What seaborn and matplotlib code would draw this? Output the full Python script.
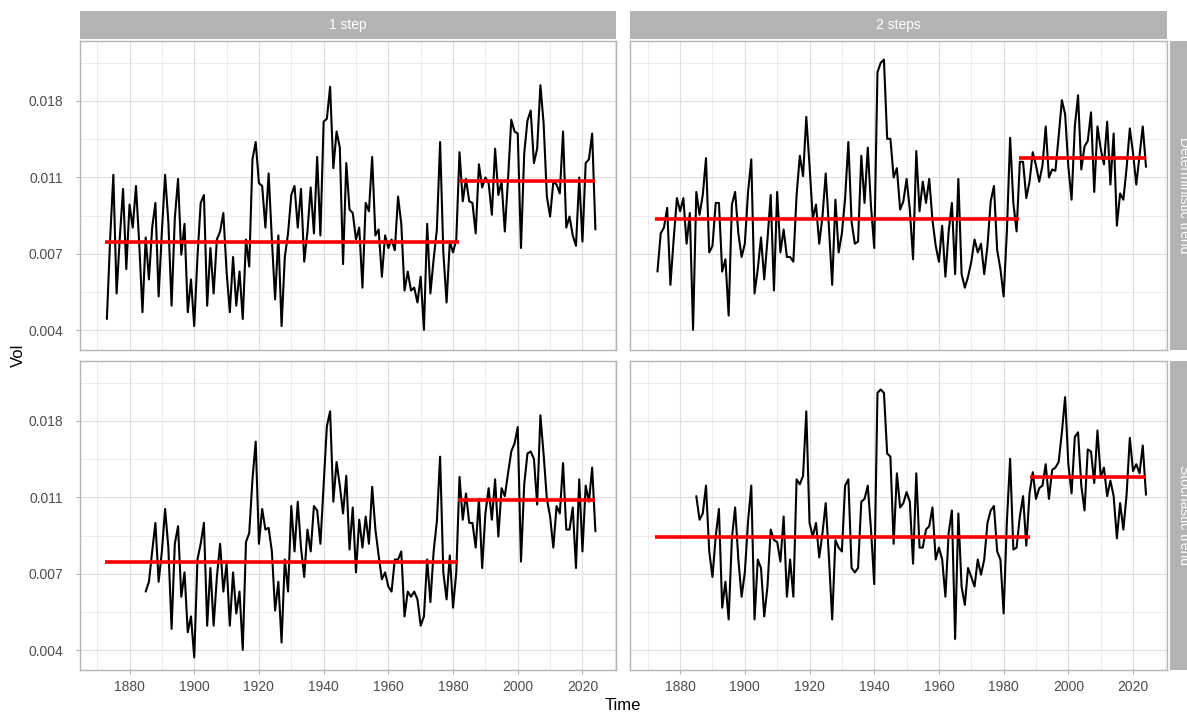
import numpy as np
import pandas as pd
import seaborn as sns
import matplotlib
matplotlib.use("Agg")
import matplotlib.pyplot as plt
from matplotlib.patches import Rectangle
from matplotlib.ticker import FixedLocator, NullFormatter


# ---------------- data ----------------
years_top = np.arange(1873, 2025)
years_bottom = np.arange(1885, 2025)

vol_1step_det = [
    0.0044, 0.0074, 0.0113, 0.0052, 0.0075, 0.0103, 0.0061, 0.0093,
    0.0080, 0.0105, 0.0072, 0.0046, 0.0075, 0.0057, 0.0080, 0.0094, 0.0051, 0.0078,
    0.0113, 0.0083, 0.0048, 0.0085, 0.0110, 0.0067, 0.0082, 0.0046, 0.0057, 0.0042,
    0.0066, 0.0094, 0.0099, 0.0048, 0.0070, 0.0052, 0.0074, 0.0078, 0.0088, 0.0060,
    0.0046, 0.0066, 0.0048, 0.0060, 0.0044, 0.0074, 0.0062, 0.0125, 0.0140, 0.0107,
    0.0105, 0.0080, 0.0114, 0.0074, 0.0050, 0.0076, 0.0042, 0.0066, 0.0077, 0.0099,
    0.0105, 0.0080, 0.0103, 0.0064, 0.0078, 0.0104, 0.0077, 0.0127, 0.0076, 0.0160,
    0.0163, 0.0201, 0.0118, 0.0150, 0.0135, 0.0063, 0.0122, 0.0090, 0.0088, 0.0074,
    0.0080, 0.0054, 0.0094, 0.0089, 0.0127, 0.0076, 0.0079, 0.0058, 0.0076, 0.0070,
    0.0074, 0.0069, 0.0098, 0.0082, 0.0053, 0.0060, 0.0053, 0.0054, 0.0049, 0.0058,
    0.0041, 0.0082, 0.0052, 0.0065, 0.0079, 0.0140, 0.0068, 0.0049, 0.0073, 0.0068,
    0.0074, 0.0131, 0.0095, 0.0110, 0.0095, 0.0094, 0.0077, 0.0121, 0.0104, 0.0111,
    0.0107, 0.0087, 0.0134, 0.0099, 0.0108, 0.0078, 0.0110, 0.0162, 0.0150, 0.0148,
    0.0070, 0.0130, 0.0161, 0.0172, 0.0122, 0.0134, 0.0203, 0.0158, 0.0098, 0.0086,
    0.0108, 0.0106, 0.0100, 0.0150, 0.0080, 0.0086, 0.0076, 0.0071, 0.0111, 0.0073,
    0.0122, 0.0125, 0.0148, 0.0079]

vol_2steps_det = [
    0.0060, 0.0077, 0.0080, 0.0091, 0.0055, 0.0074, 0.0097, 0.0089,
    0.0097, 0.0072, 0.0088, 0.0041, 0.0101, 0.0087, 0.0099, 0.0126, 0.0068, 0.0071,
    0.0094, 0.0094, 0.0060, 0.0065, 0.0045, 0.0093, 0.0101, 0.0077, 0.0066, 0.0072,
    0.0101, 0.0125, 0.0052, 0.0061, 0.0075, 0.0057, 0.0074, 0.0099, 0.0053, 0.0101,
    0.0068, 0.0079, 0.0066, 0.0066, 0.0064, 0.0099, 0.0128, 0.0112, 0.0165, 0.0120,
    0.0085, 0.0093, 0.0072, 0.0086, 0.0114, 0.0080, 0.0055, 0.0096, 0.0068, 0.0077,
    0.0097, 0.0140, 0.0083, 0.0072, 0.0073, 0.0128, 0.0094, 0.0135, 0.0092, 0.0070,
    0.0221, 0.0235, 0.0240, 0.0143, 0.0143, 0.0111, 0.0118, 0.0090, 0.0095, 0.0110,
    0.0090, 0.0065, 0.0132, 0.0089, 0.0108, 0.0094, 0.0110, 0.0084, 0.0071, 0.0064,
    0.0081, 0.0058, 0.0078, 0.0094, 0.0059, 0.0110, 0.0059, 0.0054, 0.0058, 0.0064,
    0.0074, 0.0068, 0.0072, 0.0059, 0.0071, 0.0095, 0.0105, 0.0069, 0.0061, 0.0051,
    0.0078, 0.0144, 0.0094, 0.0078, 0.0123, 0.0123, 0.0097, 0.0108, 0.0131, 0.0120,
    0.0108, 0.0120, 0.0155, 0.0111, 0.0117, 0.0116, 0.0145, 0.0184, 0.0168, 0.0119,
    0.0096, 0.0155, 0.0190, 0.0117, 0.0136, 0.0141, 0.0170, 0.0101, 0.0155, 0.0134,
    0.0121, 0.0160, 0.0106, 0.0148, 0.0081, 0.0100, 0.0096, 0.0118, 0.0153, 0.0130,
    0.0106, 0.0128, 0.0155, 0.0119]

vol_1step_sto = [
    0.0060, 0.0064, 0.0078, 0.0094, 0.0064, 0.0078,
    0.0103, 0.0080, 0.0047, 0.0082, 0.0092, 0.0058, 0.0068, 0.0046, 0.0051, 0.0039,
    0.0074, 0.0082, 0.0094, 0.0048, 0.0070, 0.0048, 0.0066, 0.0082, 0.0060, 0.0072,
    0.0048, 0.0068, 0.0052, 0.0060, 0.0041, 0.0083, 0.0088, 0.0125, 0.0160, 0.0082,
    0.0103, 0.0090, 0.0091, 0.0078, 0.0053, 0.0064, 0.0043, 0.0074, 0.0060, 0.0105,
    0.0078, 0.0108, 0.0080, 0.0066, 0.0090, 0.0078, 0.0105, 0.0102, 0.0082, 0.0120,
    0.0177, 0.0195, 0.0108, 0.0140, 0.0120, 0.0100, 0.0128, 0.0079, 0.0104, 0.0068,
    0.0096, 0.0080, 0.0098, 0.0082, 0.0119, 0.0090, 0.0076, 0.0065, 0.0068, 0.0062,
    0.0060, 0.0074, 0.0074, 0.0078, 0.0051, 0.0060, 0.0058, 0.0060, 0.0057, 0.0048,
    0.0051, 0.0074, 0.0056, 0.0078, 0.0095, 0.0145, 0.0068, 0.0057, 0.0076, 0.0054,
    0.0068, 0.0127, 0.0096, 0.0114, 0.0094, 0.0094, 0.0080, 0.0110, 0.0070, 0.0100,
    0.0118, 0.0096, 0.0125, 0.0086, 0.0118, 0.0112, 0.0130, 0.0150, 0.0158, 0.0176,
    0.0073, 0.0121, 0.0148, 0.0150, 0.0143, 0.0106, 0.0190, 0.0147, 0.0110, 0.0098,
    0.0080, 0.0105, 0.0100, 0.0139, 0.0090, 0.0090, 0.0104, 0.0070, 0.0125, 0.0078,
    0.0120, 0.0108, 0.0135, 0.0089]

vol_2steps_sto = [
    0.0112, 0.0096, 0.0100, 0.0120, 0.0078, 0.0066,
    0.0086, 0.0103, 0.0054, 0.0064, 0.0050, 0.0085, 0.0104, 0.0074, 0.0058, 0.0068,
    0.0095, 0.0120, 0.0050, 0.0074, 0.0070, 0.0051, 0.0062, 0.0090, 0.0084, 0.0083,
    0.0073, 0.0098, 0.0058, 0.0074, 0.0058, 0.0125, 0.0121, 0.0128, 0.0195, 0.0094,
    0.0086, 0.0094, 0.0075, 0.0088, 0.0107, 0.0075, 0.0050, 0.0084, 0.0080, 0.0078,
    0.0120, 0.0125, 0.0070, 0.0068, 0.0070, 0.0108, 0.0110, 0.0120, 0.0090, 0.0063,
    0.0220, 0.0225, 0.0220, 0.0148, 0.0145, 0.0082, 0.0130, 0.0104, 0.0107, 0.0115,
    0.0108, 0.0072, 0.0130, 0.0080, 0.0080, 0.0090, 0.0092, 0.0104, 0.0074, 0.0080,
    0.0074, 0.0058, 0.0088, 0.0102, 0.0044, 0.0100, 0.0062, 0.0055, 0.0070, 0.0066,
    0.0062, 0.0074, 0.0067, 0.0074, 0.0094, 0.0102, 0.0105, 0.0078, 0.0074, 0.0052,
    0.0095, 0.0143, 0.0079, 0.0080, 0.0098, 0.0112, 0.0081, 0.0114, 0.0131, 0.0110,
    0.0118, 0.0120, 0.0138, 0.0110, 0.0133, 0.0135, 0.0140, 0.0170, 0.0214, 0.0138,
    0.0114, 0.0165, 0.0170, 0.0120, 0.0102, 0.0152, 0.0150, 0.0122, 0.0172, 0.0127,
    0.0135, 0.0112, 0.0124, 0.0112, 0.0085, 0.0107, 0.0090, 0.0113, 0.0164, 0.0132,
    0.0138, 0.0130, 0.0156, 0.0113]

# regime means (red segments): start, end, level
seg_1step_det = [[1872.3, 1981.7, 0.00730], [1981.7, 2024.0, 0.01087]]
seg_2steps_det = [[1872.1, 1984.6, 0.00845], [1984.6, 2024.1, 0.01257]]
seg_1step_sto = [[1872.3, 1981.6, 0.00730], [1981.6, 2024.0, 0.01090]]
seg_2steps_sto = [[1872.1, 1988.3, 0.00860], [1988.3, 2024.1, 0.01270]]

col_labels = ['1 step', '2 steps']
row_labels = ['Deterministic trend', 'Stochastic trend']

x_breaks = [1880, 1900, 1920, 1940, 1960, 1980, 2000, 2020]
x_minor = [1870, 1890, 1910, 1930, 1950, 1970, 1990, 2010, 2030]
# log-scale breaks at ln = -5.5, -5, -4.5, -4 labelled rounded
y_break_log = [-5.5, -5.0, -4.5, -4.0]
y_minor_log = [-5.75, -5.25, -4.75, -4.25, -3.75]
y_labels = ['0.004', '0.007', '0.011', '0.018']


def px_box(x0, y0, x1, y1, W, H):
    return [x0 / W, 1 - y1 / H, (x1 - x0) / W, (y1 - y0) / H]


def main():
    sns.set_theme(style='whitegrid')
    plt.rcParams['font.family'] = ['Liberation Sans', 'DejaVu Sans']

    W, H = 1187, 712
    fig = plt.figure(figsize=(W / 100, H / 100), dpi=100)
    fig.patch.set_facecolor('white')

    panel_x = [(79.7, 616.1), (630.3, 1166.7)]
    panel_y = [(40.7, 350.0), (360.7, 670.0)]

    series = [[(years_top, vol_1step_det, seg_1step_det), (years_top, vol_2steps_det, seg_2steps_det)],
              [(years_bottom, vol_1step_sto, seg_1step_sto), (years_bottom, vol_2steps_sto, seg_2steps_sto)]]

    grey70 = '#B3B3B3'
    for r in range(2):
        for c in range(2):
            x0, x1 = panel_x[c]
            y0, y1 = panel_y[r]
            ax = fig.add_axes(px_box(x0, y0, x1, y1, W, H))
            t, v, segs = series[r][c]
            df = pd.DataFrame({'Time': t, 'Vol': v})
            sns.lineplot(data=df, x='Time', y='Vol', ax=ax, color='black', linewidth=1.5,
                         estimator=None, zorder=3)
            segs = np.array(segs)
            ax.hlines(segs[:, 2], segs[:, 0], segs[:, 1], color='red', linewidth=2.6, zorder=4)

            ax.set_yscale('log')
            ax.set_xlim(1864.6, 2030.4)
            ax.set_ylim(np.exp(-5.629), np.exp(-3.606))
            ax.xaxis.set_major_locator(FixedLocator(x_breaks))
            ax.xaxis.set_minor_locator(FixedLocator(x_minor))
            ax.yaxis.set_major_locator(FixedLocator(np.exp(y_break_log)))
            ax.yaxis.set_minor_locator(FixedLocator(np.exp(y_minor_log)))
            ax.yaxis.set_minor_formatter(NullFormatter())
            ax.set_yticklabels(y_labels)
            ax.set_xticklabels([str(b) for b in x_breaks])

            ax.set_facecolor('white')
            ax.grid(True, which='major', color='#DEDEDE', linewidth=0.8)
            ax.grid(True, which='minor', color='#E6E6E6', linewidth=0.5)
            ax.set_axisbelow(True)
            for sp in ax.spines.values():
                sp.set_visible(True)
                sp.set_color(grey70)
                sp.set_linewidth(1.0)

            ax.tick_params(which='minor', length=0)
            ax.tick_params(which='major', length=3, width=0.8, color=grey70,
                           labelcolor='#4D4D4D', labelsize=10)
            ax.tick_params(axis='y', pad=9, left=(c == 0), labelleft=(c == 0))
            ax.tick_params(axis='x', pad=4, bottom=(r == 1), labelbottom=(r == 1))
            ax.set_xlabel('')
            ax.set_ylabel('')

    # strips
    for c in range(2):
        x0, x1 = panel_x[c]
        fig.add_artist(Rectangle((x0 / W, 1 - 39 / H), (x1 - x0) / W, 28 / H,
                                 transform=fig.transFigure, facecolor=grey70, edgecolor='none'))
        fig.text((x0 + x1) / 2 / W, 1 - 25 / H, col_labels[c], color='white',
                 ha='center', va='center', fontsize=10)
    for r in range(2):
        y0, y1 = panel_y[r]
        fig.add_artist(Rectangle((1170 / W, 1 - y1 / H), 28 / W, (y1 - y0) / H,
                                 transform=fig.transFigure, facecolor=grey70, edgecolor='none'))
        fig.text(1184 / W, 1 - (y0 + y1) / 2 / H, row_labels[r], color='white',
                 ha='center', va='center', fontsize=10, rotation=-90)

    fig.text(623.2 / W, 1 - 705 / H, 'Time', ha='center', va='center', fontsize=12, color='black')
    fig.text(18 / W, 1 - 355 / H, 'Vol', ha='center', va='center', fontsize=12, color='black',
             rotation=90)

    fig.savefig('out.png', dpi=100, facecolor='white')


if __name__ == '__main__':
    main()
